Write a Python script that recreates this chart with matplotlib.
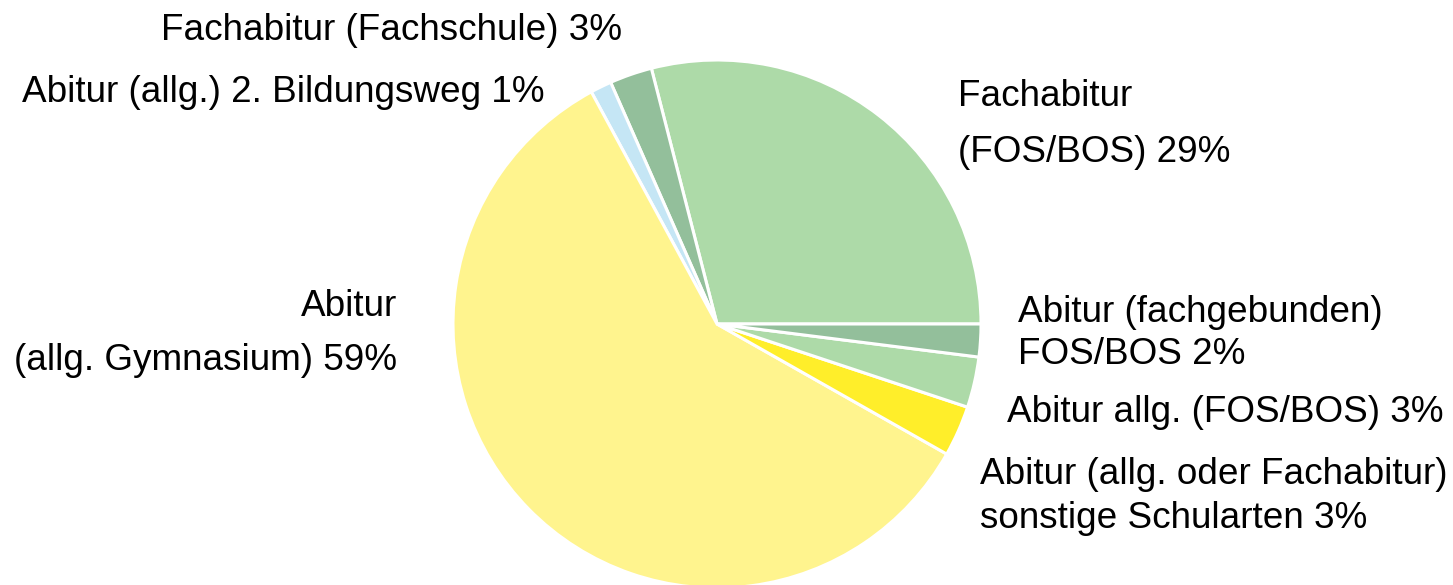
import matplotlib
matplotlib.use("Agg")
import matplotlib.pyplot as plt

labels = [
    "Fachabitur\n(FOS/BOS) 29%",
    "Fachabitur (Fachschule) 3%",
    "Abitur (allg.) 2. Bildungsweg 1%",
    "Abitur\n(allg. Gymnasium) 59%",
    "Abitur (allg. oder Fachabitur)\nsonstige Schularten 3%",
    "Abitur allg. (FOS/BOS) 3%",
    "Abitur (fachgebunden)\nFOS/BOS 2%",
]
values = [29.0, 2.6, 1.3, 58.9, 3.1, 3.1, 2.0]
colors = ["#ADDAA8", "#93BF9B", "#C5E6F5", "#FFF48E", "#FFEE2A", "#ADDAA8", "#93BF9B"]

W, H = 1453, 585
fig = plt.figure(figsize=(W / 100, H / 100), dpi=100)
ax = fig.add_axes([0, 0, 1, 1])

cx, cy, r = 717, H - 324, 264
ax.pie(values, colors=colors, startangle=0, counterclock=True,
       center=(cx, cy), radius=r, frame=True,
       wedgeprops=dict(edgecolor="white", linewidth=2.2))
ax.set_xlim(0, W)
ax.set_ylim(0, H)
ax.axis("off")

fs = 26.6
font = ["Liberation Sans", "DejaVu Sans"]

# (x, y_from_top, ha) per line
placements = [
    [(958, 97, "left"), (958, 152, "left")],
    [(622, 30, "right")],
    [(545, 92, "right")],
    [(397, 307, "right"), (397, 360, "right")],
    [(980, 475, "left"), (980, 519, "left")],
    [(1007, 412, "left")],
    [(1018, 312, "left"), (1018, 355, "left")],
]
for lab, pl in zip(labels, placements):
    for line, (x, yt, ha) in zip(lab.split("\n"), pl):
        ax.text(x, H - yt, line, ha=ha, va="center", fontsize=fs,
                family=font, color="black")

fig.savefig("out.png", dpi=100)
